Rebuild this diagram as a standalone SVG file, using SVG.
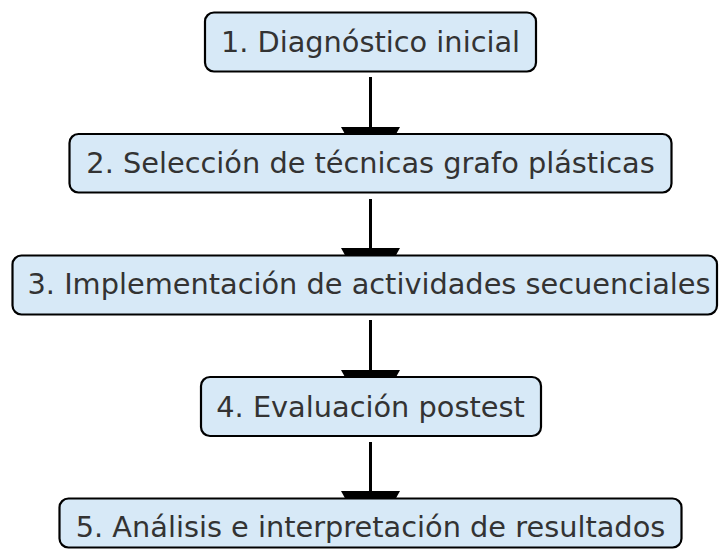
<svg xmlns="http://www.w3.org/2000/svg" width="719" height="551" viewBox="0 0 719 551">
<defs>
<style>
.box{fill:#d7e9f7;stroke:#000;stroke-width:2.2}
.lbl{font-family:"DejaVu Sans",sans-serif;font-size:28.8px;fill:#333;text-anchor:middle}
.ln{stroke:#000;stroke-width:3;fill:none}
.hd{fill:#000}
</style>
</defs>
<rect width="719" height="551" fill="#fff"/>
<g id="connectors">
<line class="ln" x1="370.5" y1="77" x2="370.5" y2="132"/>
<polygon class="hd" points="341,127 400,127 370.5,180"/>
<line class="ln" x1="370.5" y1="199" x2="370.5" y2="253"/>
<polygon class="hd" points="341,248 400,248 370.5,301"/>
<line class="ln" x1="370.5" y1="320" x2="370.5" y2="375"/>
<polygon class="hd" points="341,370 400,370 370.5,423"/>
<line class="ln" x1="370.5" y1="442" x2="370.5" y2="496"/>
<polygon class="hd" points="341,491 400,491 370.5,544"/>
</g>
<g id="n1">
<rect class="box" x="205" y="12.5" width="331" height="59" rx="9"/>
<text class="lbl" x="370.5" y="52">1. Diagnóstico inicial</text>
</g>
<g id="n2">
<rect class="box" x="69.5" y="134" width="602" height="58.5" rx="9"/>
<text class="lbl" x="370.5" y="173">2. Selección de técnicas grafo plásticas</text>
</g>
<g id="n3">
<rect class="box" x="12.5" y="255.5" width="704.5" height="59" rx="9"/>
<text class="lbl" x="369" y="294">3. Implementación de actividades secuenciales</text>
</g>
<g id="n4">
<rect class="box" x="201" y="377" width="340" height="59" rx="9"/>
<text class="lbl" x="370.5" y="416.5">4. Evaluación postest</text>
</g>
<g id="n5">
<rect class="box" x="59.5" y="498.5" width="622" height="49" rx="9"/>
<text class="lbl" x="370.5" y="537">5. Análisis e interpretación de resultados</text>
</g>
</svg>
